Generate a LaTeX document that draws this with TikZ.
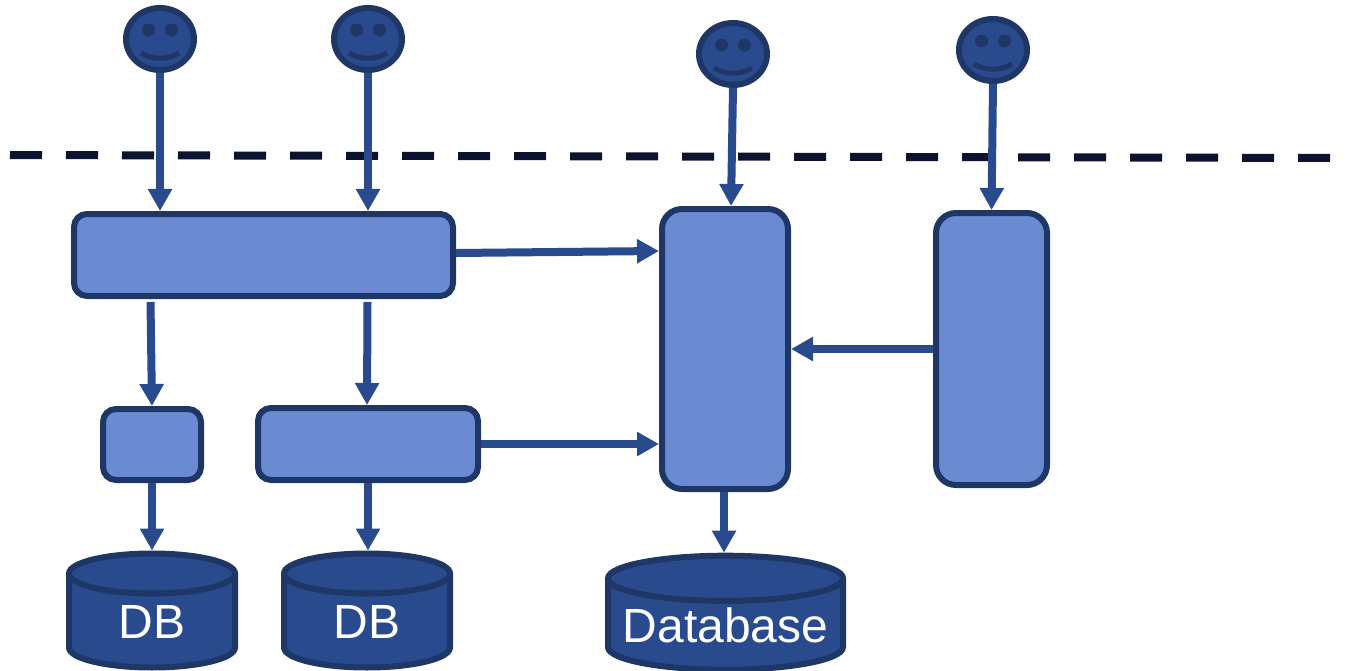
\documentclass[tikz,border=0pt]{standalone}
\usepackage{fontspec}
\setmainfont{Liberation Sans}
\usetikzlibrary{arrows.meta,shapes.geometric}
\definecolor{lightblue}{HTML}{6A8AD2}
\definecolor{darkblue}{HTML}{2A4A8E}
\definecolor{edgeblue}{HTML}{1F3766}
\definecolor{dashblue}{HTML}{0C1330}
\tikzstyle{mybox} = [draw=edgeblue, fill=lightblue, line width=6pt,
    rectangle, rounded corners=13pt]
\tikzstyle{myface} = [draw=edgeblue, fill=darkblue, line width=6pt,
    ellipse, inner sep=0pt, minimum width=68pt, minimum height=62pt]
\tikzstyle{mydb} = [draw=edgeblue, fill=darkblue, line width=6pt, text=white,
    cylinder, shape border rotate=90, inner sep=0pt, font=\fontsize{48}{48}\selectfont]
\tikzstyle{myarrow} = [draw=darkblue, line width=8pt,
    -{Triangle[width=23pt,length=22pt]}]
\begin{document}
\begin{tikzpicture}[x=1pt,y=-1pt]
\useasboundingbox (0,0) rectangle (1348,671);
% users
\foreach \name/\x/\y in {face1/160/39,face2/368/39,face3/733/54,face4/993/50}{
    \node[myface] (\name) at (\x,\y) {};
    \fill[edgeblue] (\x-11.5,\y-9) circle (6.5);
    \fill[edgeblue] (\x+11.5,\y-9) circle (6.5);
    \draw[edgeblue, line width=5pt] (\x-19,\y+14) .. controls (\x-7,\y+21) and (\x+7,\y+21) .. (\x+19,\y+14);
}
% boundary
\coordinate (lineL) at (10,155);
\coordinate (lineR) at (1330,158);
\draw[dashblue, line width=8pt, dash pattern=on 32pt off 24pt] (lineL) -- (lineR);
% services
\node[mybox, minimum width=379pt, minimum height=82pt] (boxa) at (263.5,255) {};
\node[mybox, minimum width=98pt, minimum height=71pt] (boxb) at (152,444.5) {};
\node[mybox, minimum width=220pt, minimum height=72pt] (boxc) at (368,444) {};
\node[mybox, rounded corners=20pt, minimum width=126pt, minimum height=280pt] (boxd) at (725,349) {};
\node[mybox, rounded corners=20pt, minimum width=111pt, minimum height=272pt] (boxe) at (991.5,349) {};
% databases
\node[mydb, aspect=0.6, minimum width=166pt, minimum height=114pt] (db1) at (152,622) {DB};
\node[mydb, aspect=0.6, minimum width=166pt, minimum height=114pt] (db2) at (367,622) {DB};
\node[mydb, aspect=0.22, minimum width=235pt, minimum height=114pt] (db3) at (725.5,625.5) {Database};
% connections
\draw[myarrow] (face1.south) -- (face1.south |- boxa.north);
\draw[myarrow] (face2.south) -- (face2.south |- boxa.north);
\draw[myarrow] (face3.south) -- ([xshift=6pt]boxd.north);
\draw[myarrow] (face4.south) -- (boxe.north);
\draw[myarrow] ([yshift=2pt]boxa.east) -- ([yshift=98pt]boxd.west);
\draw[myarrow] ([xshift=-113pt,yshift=-3pt]boxa.south) -- (boxb.north);
\draw[myarrow] ([xshift=104pt,yshift=-3pt]boxa.south) -- ([xshift=-1pt]boxc.north);
\draw[myarrow] (boxb.south) -- (boxb.south |- db1.north);
\draw[myarrow] (boxc.south) -- (boxc.south |- db2.north);
\draw[myarrow] (boxc.east) -- (boxc.east -| boxd.west);
\draw[myarrow] ([xshift=-1pt]boxd.south) -- ([xshift=-1pt]boxd.south |- db3.north);
\draw[myarrow] (boxe.west) -- (boxd.east);
\end{tikzpicture}
\end{document}
